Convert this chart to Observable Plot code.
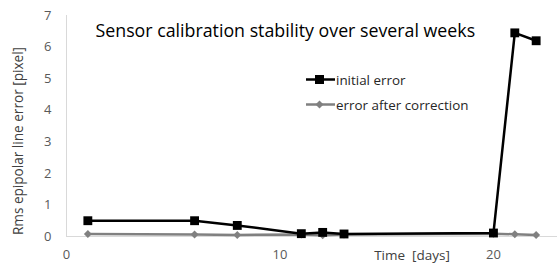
<!DOCTYPE html>
<html>
<head>
<meta charset="utf-8">
<script src="https://cdn.jsdelivr.net/npm/d3@7"></script>
<script src="https://cdn.jsdelivr.net/npm/@observablehq/plot@0.6"></script>
<style>
  html, body { margin: 0; padding: 0; background: #fff; }
  #wrap { position: relative; width: 558px; height: 263px; font-family: "Open Sans", sans-serif; }
  #legend { position: absolute; left: 305px; top: 67px; font-size: 13.4px; color: #262626; }
  #legend .row { display: flex; align-items: center; height: 25px; }
  #legend svg { display: block; }
</style>
</head>
<body>
<div id="wrap">
  <div id="chart"></div>
  <div id="legend"></div>
</div>
<script>
const days = [1, 6, 8, 11, 12, 13, 20, 21, 22];
const initialError = [0.5, 0.5, 0.35, 0.09, 0.13, 0.08, 0.11, 6.45, 6.2];
const correctedError = [0.08, 0.06, 0.05, 0.06, 0.04, 0.06, 0.09, 0.07, 0.05];
const xTicks = [0, 10, 20];
const yTicks = [0, 1, 2, 3, 4, 5, 6, 7];
const seriesNames = ["initial error", "error after correction"];
const title = "Sensor calibration stability over several weeks";
const xLabel = "Time  [days]";
const yLabel = "Rms epipolar line error [pixel]";

const initRows = days.map((d, i) => ({day: d, value: initialError[i]}));
const corrRows = days.map((d, i) => ({day: d, value: correctedError[i]}));

const chart = Plot.plot({
  width: 558,
  height: 263,
  marginLeft: 66,
  marginRight: 1,
  marginTop: 15,
  marginBottom: 27,
  style: {fontFamily: "Open Sans, sans-serif", fontSize: "13px", color: "#595959", background: "#fff"},
  x: {domain: [0, 23], ticks: xTicks, tickFormat: "d", tickSize: 0, tickPadding: 13, label: null},
  y: {domain: [0, 7], ticks: yTicks, tickFormat: "d", tickSize: 0, tickPadding: 15, label: null},
  marks: [
    Plot.ruleX([0], {stroke: "#d9d9d9"}),
    Plot.ruleY([0], {stroke: "#d9d9d9"}),
    Plot.line(corrRows, {x: "day", y: "value", stroke: "#808080", strokeWidth: 2.5}),
    Plot.dot(corrRows, {x: "day", y: "value", symbol: "diamond2", r: 3.6, fill: "#808080", stroke: "none"}),
    Plot.line(initRows, {x: "day", y: "value", stroke: "#000", strokeWidth: 2.5}),
    Plot.dot(initRows, {x: "day", y: "value", symbol: "square", r: 5, fill: "#000", stroke: "none"}),
    Plot.text([title], {frameAnchor: "top-left", textAnchor: "start", lineAnchor: "middle", dx: 29, dy: 16, fontSize: 17.8, fill: "#000"}),
    Plot.text([xLabel], {frameAnchor: "bottom", textAnchor: "middle", lineAnchor: "middle", dx: 100, dy: 19, fontSize: 13.5, fill: "#404040"}),
    Plot.text([yLabel], {frameAnchor: "left", textAnchor: "middle", rotate: -90, lineAnchor: "middle", dx: -48, dy: 15, fontSize: 13.6, fill: "#404040"})
  ]
});
document.getElementById("chart").appendChild(chart);

const legend = document.getElementById("legend");
const symbols = [
  '<rect x="10" y="5" width="9" height="9" fill="#000"/>',
  '<path d="M14.5 5.5 L18.5 9.5 L14.5 13.5 L10.5 9.5 Z" fill="#808080"/>'
];
const colors = ["#000", "#808080"];
seriesNames.forEach((name, i) => {
  const row = document.createElement("div");
  row.className = "row";
  row.innerHTML = `<svg width="31" height="19"><line x1="1" x2="30" y1="9.5" y2="9.5" stroke="${colors[i]}" stroke-width="2.5"/>${symbols[i]}</svg><span>${name}</span>`;
  legend.appendChild(row);
});
</script>
</body>
</html>
